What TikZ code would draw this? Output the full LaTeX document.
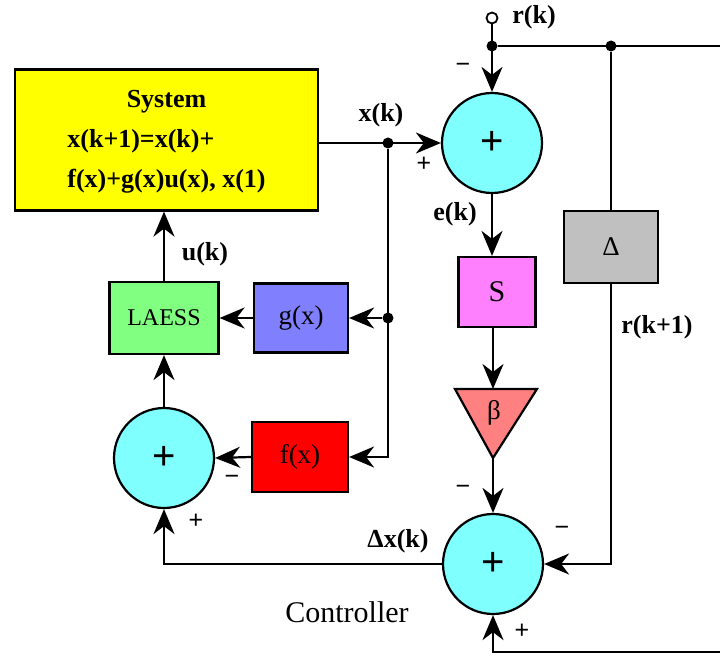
\documentclass[tikz,border=0pt]{standalone}
\usepackage{fontspec}
\setmainfont{Liberation Serif}
\newfontfamily\sansf{Liberation Sans}
\usetikzlibrary{arrows.meta}
\definecolor{sumcyan}{RGB}{128,255,255}
\definecolor{sysyellow}{RGB}{255,255,0}
\definecolor{smag}{RGB}{255,128,255}
\definecolor{bsalmon}{RGB}{255,128,128}
\definecolor{lgreen}{RGB}{128,255,128}
\definecolor{gblue}{RGB}{128,128,255}
\definecolor{fred}{RGB}{255,0,0}
\definecolor{dgray}{RGB}{192,192,192}
\tikzset{
 wire/.style={line width=2.2pt},
 arr/.style={line width=2.2pt,-{Stealth[length=25pt,width=21pt,inset=8pt]}},
 sumnode/.style={circle,draw,line width=2.2pt,fill=sumcyan,minimum size=100pt,inner sep=0pt,font=\sansf\fontsize{40}{44}\selectfont},
 blk/.style={draw,line width=2.2pt,inner sep=0pt,font=\fontsize{27}{30}\selectfont},
 dotnode/.style={circle,fill=black,inner sep=0pt,minimum size=11pt},
 lbl/.style={font=\fontsize{26}{30}\selectfont\bfseries,inner sep=0pt},
 sgn/.style={font=\sansf\fontsize{25}{28}\selectfont,inner sep=0pt},
}
\begin{document}
\begin{tikzpicture}[x=1pt,y=-1pt]
\useasboundingbox (0,0) rectangle (720,655);
% blocks
\node[blk,fill=sysyellow,minimum width=303pt,minimum height=141pt,font=\fontsize{26}{38}\selectfont\bfseries] (sys) at (166.5,140)
 {\begin{tabular}{@{}l@{}}\multicolumn{1}{c}{System}\\[2pt] x(k+1)=x(k)+\\[2pt] f(x)+g(x)u(x), x(1)\end{tabular}};
\node[sumnode] (s1) at (492,143) {+};
\node[sumnode] (s2) at (164,458) {+};
\node[sumnode] (s3) at (493,564) {+};
\node[blk,fill=smag,minimum width=77pt,minimum height=70pt,font=\fontsize{30}{32}\selectfont] (S) at (497,292) {S};
\node[blk,fill=dgray,minimum width=94pt,minimum height=72pt] (delta) at (611,247) {Δ};
\node[blk,fill=gblue,minimum width=94pt,minimum height=69pt] (gx) at (301,318) {g(x)};
\node[blk,fill=fred,minimum width=96pt,minimum height=70pt] (fx) at (300,457) {f(x)};
\node[blk,fill=lgreen,minimum width=109pt,minimum height=72pt,font=\fontsize{24}{26}\selectfont] (laess) at (164,318) {LAESS};
% beta triangle
\coordinate (btop) at (493,389);
\coordinate (bapex) at (493,458);
\filldraw[wire,fill=bsalmon,line join=miter] (455,389) -- (537,389) -- (bapex) -- cycle;
\node[font=\fontsize{27}{30}\selectfont] (beta) at (494,413) {β};
% reference input
\node[circle,draw,line width=1.8pt,fill=white,minimum size=11pt,inner sep=0pt] (rk) at (492,18) {};
\node[dotnode] (j1) at (492,46) {};
\node[dotnode] (j2) at (611,46) {};
\coordinate (eR1) at (720,46);
\coordinate (eR2) at (720,652);
\node[dotnode] (j0) at (388,143) {};
\node[dotnode] (j4) at (388,318) {};
% connectors
\draw[arr] (rk) -- (s1.north);
\draw[wire] (j1) -- (eR1);
\draw[wire] (j2) -- (delta.north);
\draw[arr] (delta.south) |- (s3.east);
\draw[arr] (eR2) -| (s3.south);
\draw[arr] (sys.east |- s1.west) -- (s1.west);
\draw[arr] (j0) |- (fx.east);
\draw[arr] (j4) -- (gx.east);
\draw[arr] (fx.west) -- (s2.east);
\draw[arr] (s3.west) -| (s2.south);
\draw[arr] (s2.north) -- (laess.south);
\draw[arr] (gx.west) -- (laess.east);
\draw[arr] (laess.north) -- (laess.north |- sys.south);
\draw[arr] (s1.south) -- (S.north -| s1.south);
\draw[arr] (S.south -| btop) -- (btop);
\draw[arr] (bapex) -- (s3.north);
% labels
\node[lbl] (lrk) at (534,17) {r(k)};
\node[lbl] (lxk) at (381,115) {x(k)};
\node[lbl] (lek) at (455,214) {e(k)};
\node[lbl] (luk) at (205,254) {u(k)};
\node[lbl] (lrk1) at (657,327) {r(k+1)};
\node[lbl] (ldx) at (398,541) {Δx(k)};
\node[font=\fontsize{30}{34}\selectfont,inner sep=0pt] (ctrl) at (347,612) {Controller};
% signs
\node[sgn] (m1) at (463,68) {−};
\node[sgn] (p1) at (424,164) {+};
\node[sgn] (m2) at (463,490) {−};
\node[sgn] (m3) at (562,531) {−};
\node[sgn] (p3) at (522,631) {+};
\node[sgn] (m4) at (232,480) {−};
\node[sgn] (p2) at (196,521) {+};
\end{tikzpicture}
\end{document}
